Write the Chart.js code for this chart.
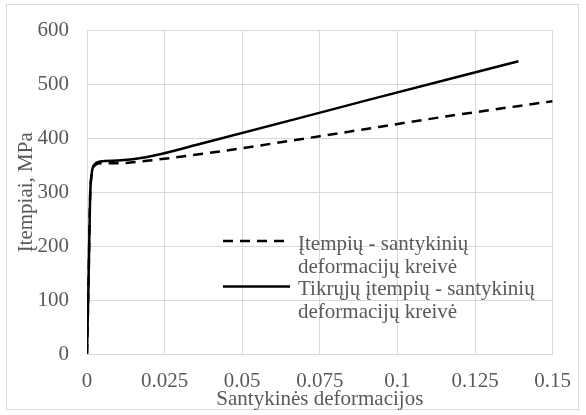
<!DOCTYPE html>
<html>
<head>
<meta charset="utf-8">
<script src="https://cdn.jsdelivr.net/npm/chart.js@4/dist/chart.umd.min.js"></script>
<style>
  body { margin: 0; background: #fff; }
  #wrap { width: 586px; height: 415px; }
</style>
</head>
<body>
<div id="wrap"><canvas id="chart" width="586" height="415"></canvas></div>
<script>
// engineering stress-strain (dashed)
const strainEng = [0, 0.0005, 0.001, 0.0015, 0.0025, 0.0042, 0.01, 0.02, 0.038, 0.075, 0.116, 0.15];
const stressEng = [0, 135, 290, 333, 350, 354, 354, 359, 372, 404, 441, 469];
// true stress-strain (solid)
const strainTrue = [0, 0.0005, 0.001, 0.0015, 0.0025, 0.0042, 0.01, 0.019, 0.036, 0.091, 0.139];
const stressTrue = [0, 135, 291, 334, 352, 357, 359, 365, 389, 472, 543];

const labelEng = ["Įtempių - santykinių", "deformacijų kreivė"];
const labelTrue = ["Tikrųjų įtempių - santykinių", "deformacijų kreivė"];
const xTicks = [0, 0.025, 0.05, 0.075, 0.1, 0.125, 0.15];

const FONT = "'Times New Roman', 'Liberation Serif', serif";
const TEXT = "#595959";
const GRID = "#d9d9d9";

const toPts = (xs, ys) => xs.map((x, i) => ({ x: x, y: ys[i] }));

// outer frame like the office chart
const framePlugin = {
  id: "frame",
  beforeDraw(chart) {
    const ctx = chart.ctx;
    ctx.save();
    ctx.fillStyle = "#fff";
    ctx.fillRect(0, 0, chart.width, chart.height);
    ctx.strokeStyle = GRID;
    ctx.lineWidth = 1;
    ctx.strokeRect(6.5, 4.5, 572, 405);
    ctx.restore();
  }
};

// legend with two-line labels, sitting inside the plot
const legendPlugin = {
  id: "innerLegend",
  afterDraw(chart) {
    const ctx = chart.ctx;
    ctx.save();
    ctx.font = "21px " + FONT;
    ctx.fillStyle = TEXT;
    ctx.textBaseline = "alphabetic";
    let y = 250;
    chart.data.datasets.forEach(ds => {
      ctx.strokeStyle = ds.borderColor;
      ctx.lineWidth = ds.borderWidth;
      ctx.setLineDash(ds.borderDash || []);
      ctx.beginPath();
      ctx.moveTo(223, y - 9);
      ctx.lineTo(290, y - 9);
      ctx.stroke();
      ds.label.forEach(line => {
        ctx.fillText(line, 298, y);
        y += 22.7;
      });
    });
    ctx.restore();
  }
};

new Chart(document.getElementById("chart"), {
  type: "scatter",
  data: {
    datasets: [
      {
        label: labelEng,
        data: toPts(strainEng, stressEng),
        showLine: true,
        borderColor: "#000",
        borderWidth: 2.5,
        borderDash: [10, 7],
        pointRadius: 0,
        cubicInterpolationMode: "monotone"
      },
      {
        label: labelTrue,
        data: toPts(strainTrue, stressTrue),
        showLine: true,
        borderColor: "#000",
        borderWidth: 2.5,
        pointRadius: 0,
        cubicInterpolationMode: "monotone"
      }
    ]
  },
  options: {
    responsive: false,
    animation: false,
    layout: { padding: { top: 29, right: 29, left: 0, bottom: 0 } },
    plugins: {
      legend: { display: false },
      tooltip: { enabled: false }
    },
    scales: {
      x: {
        type: "linear",
        min: 0,
        max: 0.15,
        afterBuildTicks: s => { s.ticks = xTicks.map(v => ({ value: v })); },
        afterFit: s => { s.height = 61; },
        grid: { color: GRID, drawTicks: false },
        border: { color: GRID },
        ticks: {
          padding: 15,
          color: TEXT,
          font: { family: FONT, size: 21 },
          callback: v => String(v)
        },
        title: {
          display: true,
          text: "Santykinės deformacijos",
          color: TEXT,
          font: { family: FONT, size: 21 },
          padding: { top: 0, bottom: 3 }
        }
      },
      y: {
        min: 0,
        max: 600,
        afterFit: s => { s.width = 87; },
        grid: { color: GRID, drawTicks: false },
        border: { color: GRID },
        ticks: {
          stepSize: 100,
          padding: 18,
          color: TEXT,
          font: { family: FONT, size: 21 }
        },
        title: {
          display: true,
          text: "Įtempiai, MPa",
          color: TEXT,
          font: { family: FONT, size: 21 },
          padding: { top: 14, bottom: 0 }
        }
      }
    }
  },
  plugins: [framePlugin, legendPlugin]
});
</script>
</body>
</html>
